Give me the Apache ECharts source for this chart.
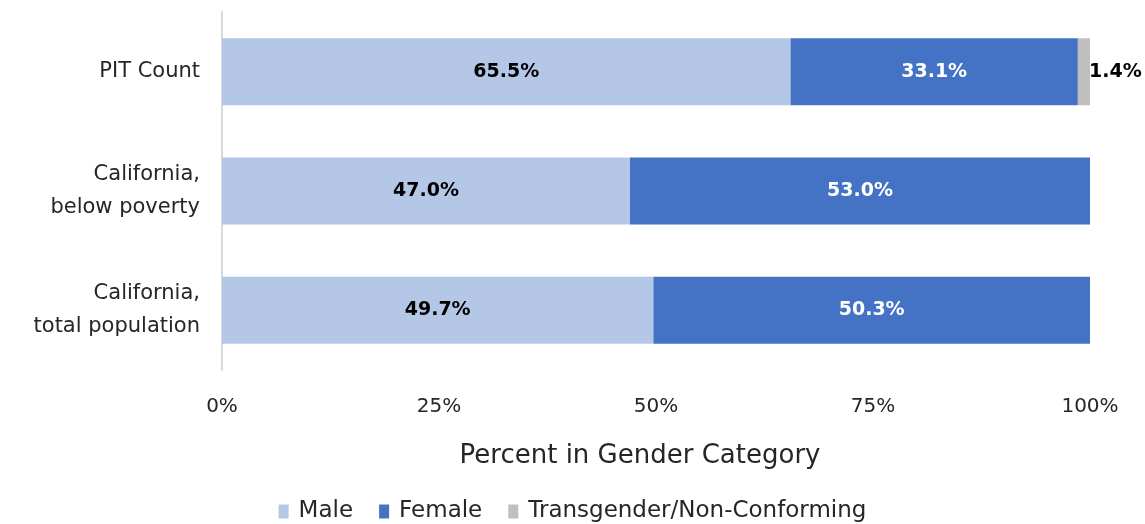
<!DOCTYPE html>
<html style="height: 100%">
<head>
    <meta charset="utf-8">
</head>
<body style="height: 100%; margin: 0; background-color: #fff">
<div id="container" style="height: 524px; width: 1145px"></div>
<script type="text/javascript" src="https://cdn.jsdelivr.net/npm/echarts@6/dist/echarts.min.js"></script>
<script type="text/javascript">
    var categories = ['California,\ntotal population', 'California,\nbelow poverty', 'PIT Count'];
    var male = [49.7, 47.0, 65.5];
    var female = [50.3, 53.0, 33.1];
    var trans = [0, 0, 1.4];
    var xTicks = [0, 25, 50, 75, 100];

    var font = 'DejaVu Sans';
    var dom = document.getElementById('container');
    var myChart = echarts.init(dom);

    function lbl(color, pos) {
        return {
            show: true,
            position: pos || 'inside',
            distance: pos ? -1 : 5,
            color: color,
            fontFamily: font,
            fontWeight: 'bold',
            fontSize: 19,
            formatter: function (p) {
                return p.value > 0 ? p.value.toFixed(1) + '%' : '';
            }
        };
    }

    var option = {
        animation: false,
        textStyle: { fontFamily: font },
        grid: { left: 222, right: 55, top: 12, bottom: 154, containLabel: false },
        legend: {
            bottom: -4,
            left: 'center',
            itemWidth: 10,
            itemHeight: 14,
            itemGap: 26,
            icon: 'rect',
            textStyle: { fontFamily: font, fontSize: 23, color: '#262626', padding: [0, 0, 0, 5] },
            data: ['Male', 'Female', 'Transgender/Non-Conforming']
        },
        xAxis: {
            type: 'value',
            min: 0,
            max: 100,
            interval: 25,
            name: 'Percent in Gender Category',
            nameLocation: 'middle',
            nameGap: 73,
            nameTextStyle: { fontFamily: font, fontSize: 26, color: '#262626', padding: [0, 32, 0, 0] },
            axisLine: { show: false },
            axisTick: { show: false },
            splitLine: { show: false },
            axisLabel: {
                margin: 27,
                fontSize: 20,
                color: '#262626',
                fontFamily: font,
                formatter: function (v) { return xTicks.indexOf(v) >= 0 ? v + '%' : ''; }
            }
        },
        yAxis: {
            type: 'category',
            data: categories,
            axisLine: { show: true, lineStyle: { color: '#d9d9d9', width: 2 } },
            axisTick: { show: false },
            axisLabel: {
                margin: 22,
                fontSize: 21,
                lineHeight: 33,
                color: '#262626',
                fontFamily: font,
                align: 'right'
            }
        },
        series: [
            {
                name: 'Male', type: 'bar', stack: 'g', barWidth: 67,
                itemStyle: { color: '#B4C7E7' },
                label: lbl('#000'),
                data: male
            },
            {
                name: 'Female', type: 'bar', stack: 'g', barWidth: 67,
                itemStyle: { color: '#4472C4' },
                label: lbl('#fff'),
                data: female
            },
            {
                name: 'Transgender/Non-Conforming', type: 'bar', stack: 'g', barWidth: 67,
                itemStyle: { color: '#BFBFBF' },
                label: lbl('#000', 'right'),
                data: trans
            }
        ]
    };
    if (option && typeof option === 'object') {
        myChart.setOption(option, true);
    }
</script>
</body>
</html>
